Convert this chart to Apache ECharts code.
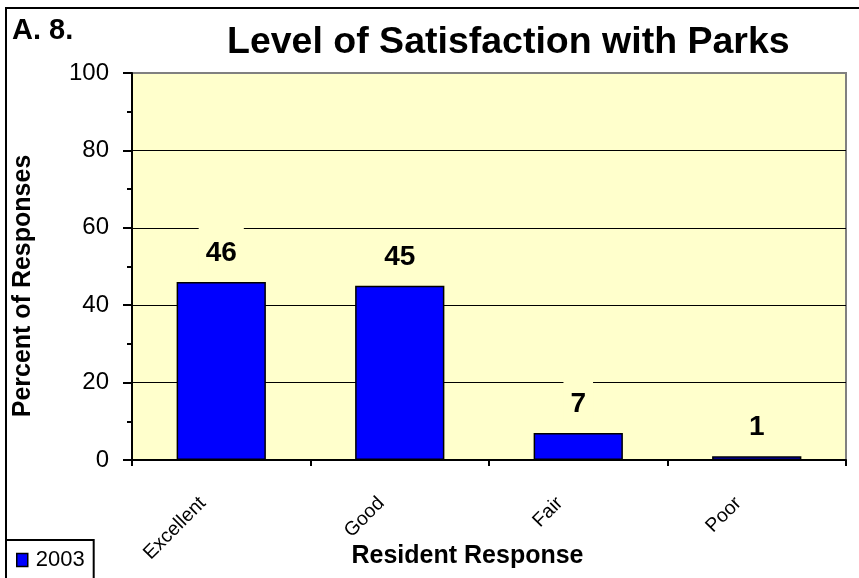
<!DOCTYPE html>
<html>
<head>
  <meta charset="utf-8">
  <title>Parks</title>
  <script src="https://cdn.jsdelivr.net/npm/echarts@6/dist/echarts.min.js"></script>
  <style>
    html, body { margin: 0; padding: 0; background: #fff; }
  </style>
</head>
<body>
  <div id="container" style="width: 859px; height: 578px"></div>
  <script>
    // data
    const categories = ['Excellent', 'Good', 'Fair', 'Poor'];
    const values2003 = [46, 45, 7, 1];
    const seriesName = '2003';

    const font = "'Liberation Sans', Arial, sans-serif";
    const myChart = echarts.init(document.getElementById('container'));

    const option = {
      backgroundColor: '#ffffff',
      animation: false,
      title: [
        {
          text: 'Level of Satisfaction with Parks',
          left: 227,
          top: 24,
          padding: 0,
          textStyle: { fontFamily: font, fontSize: 37.5, fontWeight: 'bold', color: '#000' }
        },
        {
          text: 'A. 8.',
          left: 12,
          top: 16,
          padding: 0,
          textStyle: { fontFamily: font, fontSize: 29, fontWeight: 'bold', color: '#000' }
        }
      ],
      legend: {
        data: [seriesName],
        left: 6,
        top: 540,
        orient: 'vertical',
        padding: [9, 9, 30, 10],
        borderColor: '#000',
        borderWidth: 2,
        borderRadius: 0,
        backgroundColor: '#fff',
        itemWidth: 11,
        itemHeight: 13,
        icon: 'rect',
        itemStyle: { borderColor: '#000', borderWidth: 1.5 },
        textStyle: { fontFamily: font, fontSize: 22, color: '#000', padding: [0, 0, 0, 3] }
      },
      graphic: [
        {
          type: 'rect',
          shape: { x: 6, y: 8, width: 1000, height: 1000 },
          style: { fill: null, stroke: '#000', lineWidth: 2 },
          z: 100
        }
      ],
      grid: {
        left: 132,
        right: 13,
        top: 73,
        bottom: 118,
        show: true,
        backgroundColor: '#FFFFCC',
        borderColor: '#808080',
        borderWidth: 2
      },
      xAxis: {
        type: 'category',
        data: categories,
        name: 'Resident Response',
        nameLocation: 'middle',
        nameGap: 84,
        nameMoveOverlap: false,
        nameTextStyle: { fontFamily: font, fontSize: 25, fontWeight: 'bold', color: '#000', padding: [0, 43, 0, 0] },
        axisLine: { lineStyle: { color: '#000', width: 2 } },
        axisTick: { show: true, length: 6, lineStyle: { color: '#000', width: 2 } },
        axisLabel: {
          rotate: 45,
          margin: 22,
          padding: [0, 26, 0, 0],
          fontFamily: font,
          fontSize: 19.5,
          color: '#000'
        }
      },
      yAxis: {
        type: 'value',
        min: 0,
        max: 100,
        interval: 20,
        name: 'Percent of Responses',
        nameLocation: 'middle',
        nameGap: 96,
        nameMoveOverlap: false,
        nameTextStyle: { fontFamily: font, fontSize: 25, fontWeight: 'bold', color: '#000', padding: [0, 39, 0, 0] },
        axisLine: { show: true, lineStyle: { color: '#000', width: 2 } },
        axisTick: { show: true, length: 9, lineStyle: { color: '#000', width: 2 } },
        minorTick: { show: true, splitNumber: 2, length: 5, lineStyle: { color: '#000', width: 2 } },
        axisLabel: { margin: 23, fontFamily: font, fontSize: 24, color: '#000' },
        splitLine: { show: true, showMaxLine: false, lineStyle: { color: '#000', width: 1 } }
      },
      series: [
        {
          name: seriesName,
          type: 'bar',
          data: values2003,
          barWidth: '50%',
          itemStyle: { color: '#0000FF', borderColor: '#000', borderWidth: 1.5 },
          label: {
            show: true,
            position: 'top',
            distance: 11,
            fontFamily: font,
            fontSize: 28,
            fontWeight: 'bold',
            color: '#000',
            backgroundColor: '#FFFFCC',
            padding: [13, 7, 4, 7]
          }
        }
      ]
    };
    myChart.setOption(option);
  </script>
</body>
</html>
